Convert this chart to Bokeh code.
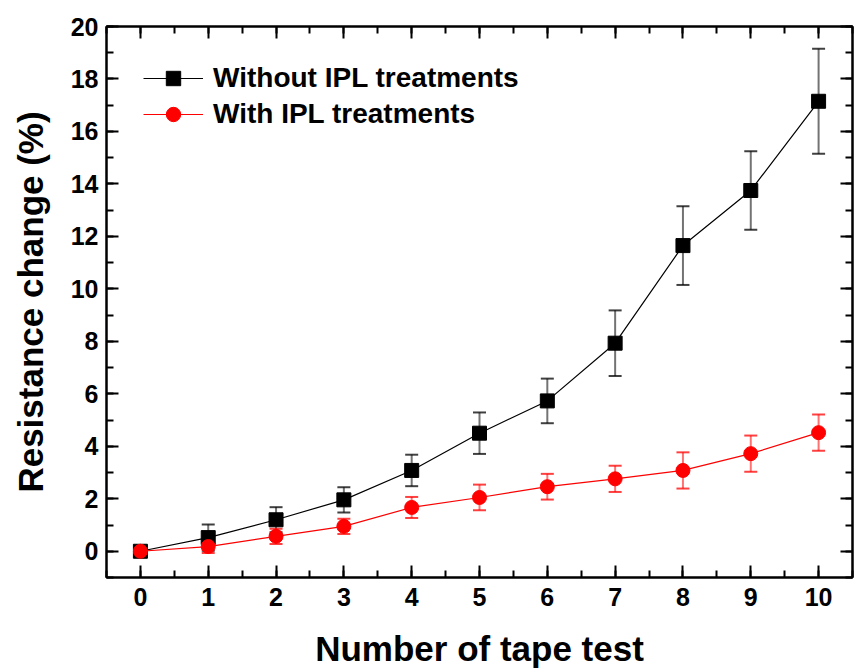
from bokeh.plotting import figure
from bokeh.models import (ColumnDataSource, Whisker, TeeHead, LinearAxis,
                          SingleIntervalTicker, Range1d, Legend, LegendItem)
from bokeh.embed import file_html
from bokeh.resources import INLINE

# ---- data ----
tests = [0, 1, 2, 3, 4, 5, 6, 7, 8, 9, 10]
without_ipl = [0.0, 0.52, 1.2, 1.96, 3.08, 4.5, 5.73, 7.93, 11.65, 13.75, 17.15]
without_err = [0.0, 0.5, 0.48, 0.48, 0.6, 0.79, 0.85, 1.25, 1.5, 1.5, 2.0]
with_ipl = [0.0, 0.18, 0.57, 0.95, 1.67, 2.05, 2.46, 2.76, 3.08, 3.72, 4.52]
with_err = [0.0, 0.25, 0.29, 0.29, 0.4, 0.49, 0.49, 0.5, 0.69, 0.69, 0.69]

FONT = "Liberation Sans"

def src(y, e):
    return ColumnDataSource(dict(x=tests, y=y,
                                 lo=[a - b for a, b in zip(y, e)],
                                 hi=[a + b for a, b in zip(y, e)]))

s_black = src(without_ipl, without_err)
s_red = src(with_ipl, with_err)

p = figure(width=856, height=670, output_backend="svg", toolbar_location=None,
           x_range=Range1d(-0.5, 10.5), y_range=Range1d(-1, 20),
           min_border_left=106, min_border_right=4, min_border_top=26,
           min_border_bottom=93)
p.grid.visible = False
p.outline_line_color = "black"
p.outline_line_width = 2
p.background_fill_color = "white"
p.border_fill_color = "white"

p.xaxis.ticker = SingleIntervalTicker(interval=1, num_minor_ticks=2)
p.yaxis.ticker = SingleIntervalTicker(interval=2, num_minor_ticks=2)

def style_axis(ax, labels=True):
    ax.axis_line_width = 2
    ax.major_tick_line_width = 2
    ax.minor_tick_line_width = 2
    ax.major_tick_in = 12
    ax.major_tick_out = 0
    ax.minor_tick_in = 7
    ax.minor_tick_out = 0
    if labels:
        ax.major_label_text_font = FONT
        ax.major_label_text_font_style = "bold"
        ax.major_label_text_font_size = "25px"
        ax.major_label_text_color = "black"
        ax.axis_label_text_font = FONT
        ax.axis_label_text_font_style = "bold"
        ax.axis_label_text_font_size = "35px"
        ax.axis_label_text_color = "black"
    else:
        ax.major_label_text_font_size = "1px"
        ax.major_label_text_color = None
        ax.major_label_standoff = 0

style_axis(p.xaxis[0])
style_axis(p.yaxis[0])
p.xaxis.axis_label = "Number of tape test"
p.yaxis.axis_label = "Resistance change (%)"
p.xaxis.major_label_standoff = 10
p.yaxis.major_label_standoff = 8
p.xaxis.axis_label_standoff = 20
p.yaxis.axis_label_standoff = 18

top_ax = LinearAxis(ticker=SingleIntervalTicker(interval=1, num_minor_ticks=2))
right_ax = LinearAxis(ticker=SingleIntervalTicker(interval=2, num_minor_ticks=2))
style_axis(top_ax, labels=False)
style_axis(right_ax, labels=False)
p.add_layout(top_ax, "above")
p.add_layout(right_ax, "right")

# error bars
for s, col in ((s_black, "black"), (s_red, "red")):
    w = Whisker(source=s, base="x", lower="lo", upper="hi",
                line_color=col, line_alpha=0.55, line_width=2,
                upper_head=TeeHead(size=13, line_color=col, line_alpha=0.75, line_width=2),
                lower_head=TeeHead(size=13, line_color=col, line_alpha=0.75, line_width=2))
    p.add_layout(w)

bl = p.line("x", "y", source=s_black, line_color="black", line_width=1.2)
bm = p.scatter("x", "y", source=s_black, marker="square", size=14,
               fill_color="black", line_color="black")
rl = p.line("x", "y", source=s_red, line_color="red", line_width=1.2)
rm = p.scatter("x", "y", source=s_red, marker="circle", size=14,
               fill_color="red", line_color="red")

legend = Legend(items=[LegendItem(label="Without IPL treatments", renderers=[bl, bm]),
                       LegendItem(label="With IPL treatments", renderers=[rl, rm])],
                location=(37, 445), padding=0, margin=0, spacing=0,
                glyph_width=60, glyph_height=36, label_height=36,
                label_standoff=10, border_line_color=None,
                background_fill_alpha=0,
                label_text_font=FONT, label_text_font_style="bold",
                label_text_font_size="28px", label_text_color="black")
p.add_layout(legend)

open("out.html", "w").write(file_html(p, INLINE))
